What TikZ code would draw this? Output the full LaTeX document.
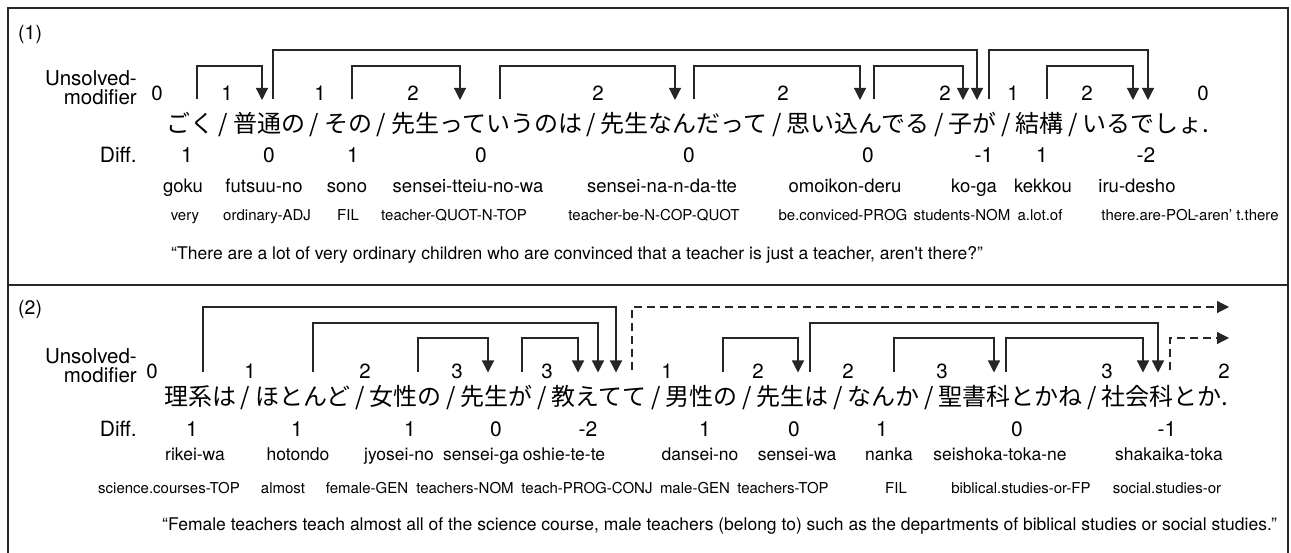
\documentclass[tikz,border=0pt]{standalone}
\usepackage{fontspec}
\setmainfont{TeX Gyre Heros}
\newfontfamily\jfont{Noto Sans CJK JP}
\usetikzlibrary{arrows.meta}
\newcommand\js{\makebox[19pt][c]{/}}
\begin{document}
\begin{tikzpicture}[x=1pt,y=-1pt,
  frame/.style={line width=1.3pt, draw=black!85},
  plainlink/.style={line width=1.2pt, draw=black!85},
  link/.style={plainlink, -{Triangle[width=12pt,length=12pt]}},
  dlink/.style={link, dash pattern=on 8pt off 5pt},
  tag/.style={font=\fontsize{19.5}{22}\selectfont, inner sep=0, anchor=base west},
  lab/.style={font=\fontsize{21}{24}\selectfont, inner sep=0, anchor=base east},
  lab2/.style={font=\fontsize{20.5}{18.5}\selectfont, inner sep=0, anchor=north east, align=right},
  num/.style={font=\fontsize{20.5}{24}\selectfont, inner sep=0, anchor=base},
  dif/.style={font=\fontsize{21}{24}\selectfont, inner sep=0, anchor=base},
  rom/.style={font=\fontsize{18.5}{22}\selectfont, inner sep=0, anchor=base},
  romb/.style={font=\fontsize{17.5}{21}\selectfont, inner sep=0, anchor=base},
  gls/.style={font=\fontsize{15}{17}\selectfont, inner sep=0, anchor=base},
  trn/.style={font=\fontsize{17.5}{20}\selectfont, inner sep=0, anchor=base west},
  jp/.style={font=\jfont\fontsize{24}{28}\selectfont, inner sep=0, anchor=base west}]
\useasboundingbox (0,0) rectangle (1291,553);
% frame
\draw[frame] (8,554) -- (8,8) -- (1288,8) -- (1288,554);
\draw[frame] (8,285) -- (1288,285);

% ---------------- panel 1
\node[tag] (tag1) at (18,40) {(1)};
\node[lab2] (um1) at (137,70.5) {Unsolved-\\modifier};
\foreach \x/\t [count=\i] in {157/0,227/1,320/1,413/2,598/2,783/2,945/2,1013/1,1087/2,1203/0}
  \node[num] (na\i) at (\x,101) {\t};
\node[jp] (ja1) at (166,133) {ごく\js 普通の\js その\js 先生っていうのは\js 先生なんだって\js 思い込んでる\js 子が\js 結構\js いるでしょ.};
\node[lab] (di1) at (137,163) {Diff.};
\foreach \x/\t [count=\i] in {187/1,269/0,353/1,481/0,689/0,868/0,984/-1,1042/1,1146/-2}
  \node[dif] (da\i) at (\x,163) {\t};
\foreach \x/\t [count=\i] in {183/goku,264/futsuu-no,347/sono,468/sensei-tteiu-no-wa,662/sensei-na-n-da-tte,845/omoikon-deru,974/ko-ga,1043/kekkou,1137/iru-desho}
  \node[rom] (ra\i) at (\x,193) {\t};
\foreach \x/\t [count=\i] in {185/very,267/ordinary-ADJ,348/FIL,454/teacher-QUOT-N-TOP,654/teacher-be-N-COP-QUOT,843/be.conviced-PROG,962/students-NOM,1040/a.lot.of,1190/there.are-POL-aren’ t.there}
  \node[gls] (ga\i) at (\x,221) {\t};
\node[trn] (tr1) at (171,259.5) {“There are a lot of very ordinary children who are convinced that a teacher is just a teacher, aren\textquotesingle t there?”};

% brackets panel 1
\foreach \n/\a/\b/\t in {a/197/262/66,b/273/977/50,c/352/460/66,d/500/675/66,e/694/860/66,f/874/963/66,g/989/1148/50,h/1047/1133/66}{
  \coordinate (\n s) at (\a,99.5);
  \coordinate (\n c) at (\b,\t);
  \coordinate (\n e) at (\b,100);
  \draw[link] (\n s) |- (\n c) -- (\n e);
}

% ---------------- panel 2
\node[tag] (tag2) at (18,315) {(2)};
\node[lab2] (um2) at (137,348.5) {Unsolved-\\modifier};
\foreach \x/\t [count=\i] in {152/0,250/1,365/2,457/3,547/3,667/1,758/2,848/2,942/3,1107/3,1224/2}
  \node[num] (nb\i) at (\x,378) {\t};
\node[jp] (ja2) at (164,405) {理系は\js ほとんど\js 女性の\js 先生が\js 教えてて\js 男性の\js 先生は\js なんか\js 聖書科とかね\js 社会科とか.};
\node[lab] (di2) at (137,436) {Diff.};
\foreach \x/\t [count=\i] in {192/1,297/1,410/1,496/0,588/-2,705/1,794/0,882/1,1017/0,1167/-1}
  \node[dif] (db\i) at (\x,436) {\t};
\foreach \x/\t [count=\i] in {195/rikei-wa,298/hotondo,399/jyosei-no,481/sensei-ga,564/oshie-te-te,700/dansei-no,797/sensei-wa,889/nanka,1000/seishoka-toka-ne,1169/shakaika-toka}
  \node[romb] (rb\i) at (\x,460) {\t};
\foreach \x/\t [count=\i] in {169/science.courses-TOP,283/almost,367/female-GEN,465/teachers-NOM,587/teach-PROG-CONJ,695/male-GEN,783/teachers-TOP,896/FIL,1021/biblical.studies-or-FP,1167/social.studies-or}
  \node[gls] (gb\i) at (\x,493) {\t};
\node[trn] (tr2) at (162,530.5) {“Female teachers teach almost all of the science course, male teachers (belong to) such as the departments of biblical studies or social studies.”};

% brackets panel 2
\foreach \n/\a/\b/\t in {A/203/616/307,B/313/598/323,C/418/488/338,D/522/578/338,F/723/798/338,G/810/1158/323,H/894/994/338,I/1006/1143/338}{
  \coordinate (\n s) at (\a,372);
  \coordinate (\n c) at (\b,\t);
  \coordinate (\n e) at (\b,372.5);
  \draw[link] (\n s) |- (\n c) -- (\n e);
}
\coordinate (Es) at (632,370);
\coordinate (Ee) at (1229,307);
\draw[dlink] (Es) |- (Ee);
\coordinate (Js) at (1170,370);
\coordinate (Je) at (1229,338);
\draw[dlink] (Js) |- (Je);
\end{tikzpicture}
\end{document}
